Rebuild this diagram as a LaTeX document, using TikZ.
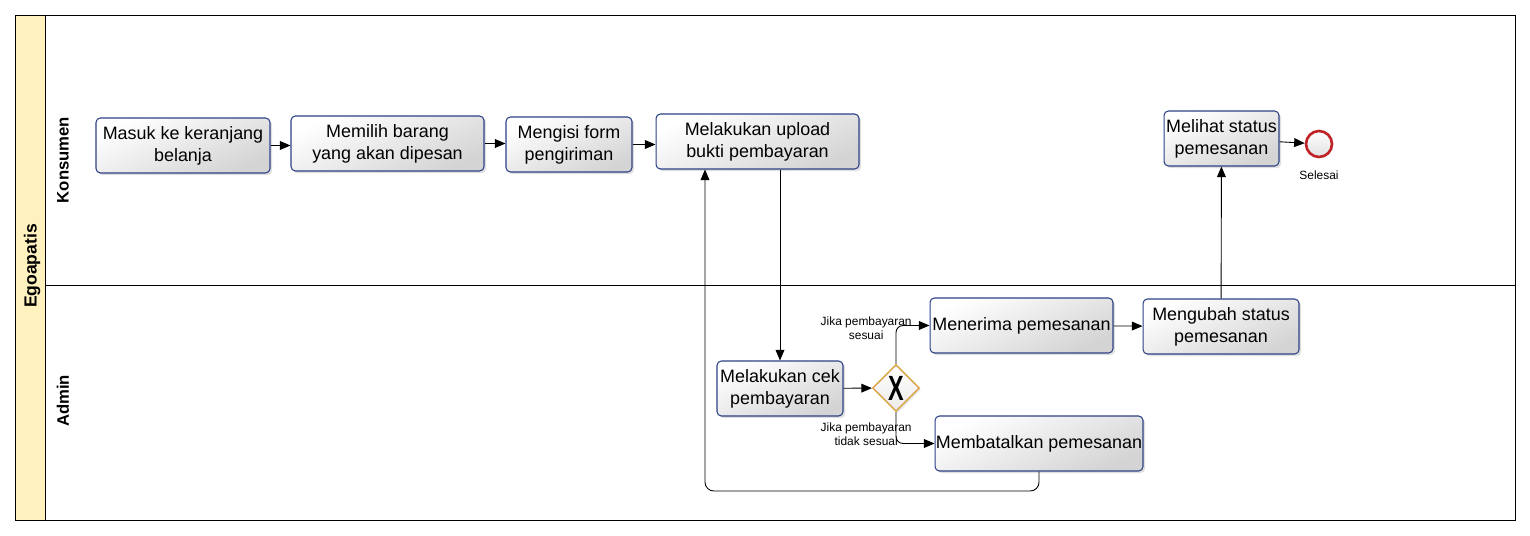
\documentclass[tikz,border=0pt]{standalone}
\usepackage{fontspec}
\setmainfont{Liberation Sans}
\usetikzlibrary{shapes.geometric, arrows.meta, shadows}

\definecolor{taskline}{RGB}{45,65,135}
\definecolor{poolfill}{RGB}{255,242,190}
\definecolor{gateline}{RGB}{222,160,70}
\definecolor{endline}{RGB}{190,35,40}

\begin{document}
\begin{tikzpicture}[
    x=0.02cm, y=-0.02cm,
    task/.style={rectangle, rounded corners=2.5pt, draw=taskline, line width=0.6pt,
        top color=white, bottom color=black!17, shading angle=25, align=center,
        drop shadow={opacity=0.25, shadow xshift=1.2pt, shadow yshift=-1.2pt},
        font=\fontsize{10.2}{12.5}\selectfont, inner xsep=0.3pt, inner ysep=1pt},
    gate/.style={diamond, draw=gateline, line width=0.8pt, top color=white, bottom color=black!8,
        minimum width=0.94cm, minimum height=0.94cm, inner sep=0pt,
        drop shadow={opacity=0.2, shadow xshift=1pt, shadow yshift=-1pt}},
    endevent/.style={circle, draw=endline, line width=1.5pt, top color=white, bottom color=black!12,
        minimum size=0.52cm, inner sep=0pt},
    cond/.style={font=\fontsize{6.8}{8.2}\selectfont, align=center, inner sep=0pt},
    lane/.style={rotate=90, font=\fontsize{9.5}{11}\selectfont\bfseries},
    arrow/.style={-{Triangle[length=6pt,width=5pt]}, line width=0.5pt}
]
\useasboundingbox (0,0) rectangle (1530,536);

% pool and lanes
\draw[fill=poolfill, line width=0.5pt] (15,15) rectangle (45,520);
\draw[line width=0.5pt] (45,15) rectangle (1515,520);
\draw[line width=0.5pt] (45,285) -- (1515,285);
\node[lane, font=\fontsize{10}{12}\selectfont\bfseries] (pool) at (32,266) {Egoapatis};
\node[lane] (konsumen) at (63,160) {Konsumen};
\node[lane] (admin) at (63,401) {Admin};

% Konsumen tasks
\node[task, minimum width=3.48cm, minimum height=1.1cm] (masuk) at (183,145.5) {Masuk ke keranjang\\belanja};
\node[task, minimum width=3.86cm, minimum height=1.1cm] (memilih) at (387.5,143.5) {Memilih barang\\yang akan dipesan};
\node[task, minimum width=2.52cm, minimum height=1.1cm] (mengisi) at (569,144.5) {Mengisi form\\pengiriman};
\node[task, minimum width=4.06cm, minimum height=1.1cm] (upload) at (757.5,141.5) {Melakukan upload\\bukti pembayaran};
\node[task, minimum width=2.3cm, minimum height=1.1cm] (melihat) at (1221.5,138.5) {Melihat status\\pemesanan};
\node[endevent] (selesai) at (1319,144) {};
\node[cond, below=7pt] (lblselesai) at (selesai.south) {Selesai};

% Admin tasks
\node[task, minimum width=2.52cm, minimum height=1.1cm] (cek) at (780,388.5) {Melakukan cek\\pembayaran};
\node[gate] (gw) at (896,388) {\scalebox{0.7}[1.05]{\fontsize{19}{19}\selectfont\bfseries X}};
\node[task, minimum width=3.66cm, minimum height=1.1cm] (menerima) at (1021.5,325.5) {Menerima pemesanan};
\node[task, minimum width=3.12cm, minimum height=1.1cm] (mengubah) at (1221,326.5) {Mengubah status\\pemesanan};
\node[task, minimum width=4.16cm, minimum height=1.1cm] (batal) at (1039,443.5) {Membatalkan pemesanan};

% conditions
\node[cond, anchor=east] (lblsesuai) at (912,328) {Jika pembayaran\\sesuai};
\node[cond, anchor=east] (lbltidak) at (912,434) {Jika pembayaran\\tidak sesuai};

% flows
\draw[arrow] (masuk) -- (masuk -| memilih.west);
\draw[arrow] (memilih) -- (memilih -| mengisi.west);
\draw[arrow] (mengisi) -- (mengisi -| upload.west);
\draw[arrow] (upload.south -| cek) -- (cek);
\draw[arrow] (cek) -- (gw);
\draw[arrow, rounded corners=4pt] (gw.north) |- (menerima.west);
\draw[arrow, rounded corners=4pt] (gw.south) |- (batal.west);
\draw[arrow] (menerima) -- (mengubah);
\draw[arrow] (mengubah) -- (melihat);
\draw[arrow] (melihat) -- (selesai);

% back to upload
\coordinate (back) at (705,491);
\draw[arrow, rounded corners=5pt] (batal.south) |- (back) -- (back |- upload.south);

\end{tikzpicture}
\end{document}
